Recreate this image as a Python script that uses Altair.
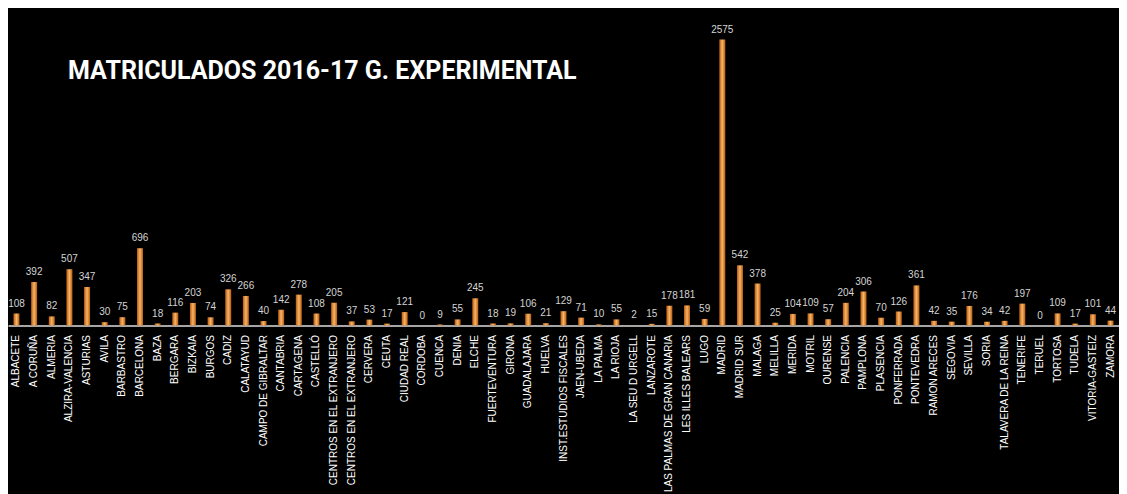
import altair as alt
import pandas as pd

title_text = ["MATRICULADOS 2016-17 G. EXPERIMENTAL"]

categories = [
    "ALBACETE", "A CORUÑA", "ALMERIA", "ALZIRA-VALENCIA", "ASTURIAS", "AVILA",
    "BARBASTRO", "BARCELONA", "BAZA", "BERGARA", "BIZKAIA", "BURGOS", "CADIZ",
    "CALATAYUD", "CAMPO DE GIBRALTAR", "CANTABRIA", "CARTAGENA", "CASTELLÓ",
    "CENTROS EN EL EXTRANJERO", "CENTROS EN EL EXTRANJERO ", "CERVERA", "CEUTA",
    "CIUDAD REAL", "CORDOBA", "CUENCA", "DENIA", "ELCHE", "FUERTEVENTURA",
    "GIRONA", "GUADALAJARA", "HUELVA", "INST.ESTUDIOS FISCALES", "JAEN-UBEDA",
    "LA PALMA", "LA RIOJA", "LA SEU D URGELL", "LANZAROTE",
    "LAS PALMAS DE GRAN CANARIA", "LES ILLES  BALEARS", "LUGO", "MADRID",
    "MADRID SUR", "MALAGA", "MELILLA", "MERIDA", "MOTRIL", "OURENSE",
    "PALENCIA", "PAMPLONA", "PLASENCIA", "PONFERRADA", "PONTEVEDRA",
    "RAMON ARECES", "SEGOVIA", "SEVILLA", "SORIA", "TALAVERA DE LA REINA",
    "TENERIFE", "TERUEL", "TORTOSA", "TUDELA", "VITORIA-GASTEIZ", "ZAMORA",
]
values = [
    108, 392, 82, 507, 347, 30,
    75, 696, 18, 116, 203, 74, 326,
    266, 40, 142, 278, 108,
    205, 37, 53, 17,
    121, 0, 9, 55, 245, 18,
    19, 106, 21, 129, 71,
    10, 55, 2, 15,
    178, 181, 59, 2575,
    542, 378, 25, 104, 109, 57,
    204, 306, 70, 126, 361,
    42, 35, 176, 34, 42,
    197, 0, 109, 17, 101, 44,
]

df = pd.DataFrame({"centro": categories, "matriculados": values})
title_df = pd.DataFrame({"titulo": title_text})

bar_gradient = alt.Gradient(
    gradient="linear", x1=0, x2=1, y1=0, y2=0,
    stops=[
        alt.GradientStop(color="#b85a0e", offset=0),
        alt.GradientStop(color="#f7b566", offset=0.5),
        alt.GradientStop(color="#b85a0e", offset=1),
    ],
)

x = alt.X(
    "centro:N", sort=None,
    scale=alt.Scale(paddingInner=0.66, paddingOuter=0.31),
    axis=alt.Axis(
        title=None, labelAngle=-90, labelColor="white", labelFontSize=10,
        labelFont="Liberation Sans", ticks=False, domainColor="#a6a6a6",
        domainWidth=2, labelPadding=9, labelOverlap=False, labelLimit=0,
        grid=False,
    ),
)
y = alt.Y(
    "matriculados:Q",
    scale=alt.Scale(domain=[0, 2575], nice=False, zero=True),
    axis=None,
)

bars = alt.Chart(df).mark_bar(color=bar_gradient).encode(x=x, y=y)
labels = alt.Chart(df).mark_text(
    dy=-5, baseline="bottom", color="#d4d4d4", fontSize=10, font="Liberation Sans"
).encode(x=x, y=y, text="matriculados:Q")

title_mark = alt.Chart(title_df).mark_text(
    align="left", baseline="alphabetic", font="Roboto", fontSize=25,
    fontWeight="bold", color="white",
).encode(x=alt.value(60), y=alt.value(39.5), text="titulo:N")

chart = (
    alt.layer(bars, labels, title_mark)
    .properties(
        width=1111,
        height=286,
        autosize=alt.AutoSizeParams(type="none"),
        padding={"left": 0, "right": 0, "top": 31.5, "bottom": 168.5},
        background="black",
    )
    .configure_view(stroke=None)
)

chart.save("out.html", embed_options={"renderer": "svg", "actions": False})
